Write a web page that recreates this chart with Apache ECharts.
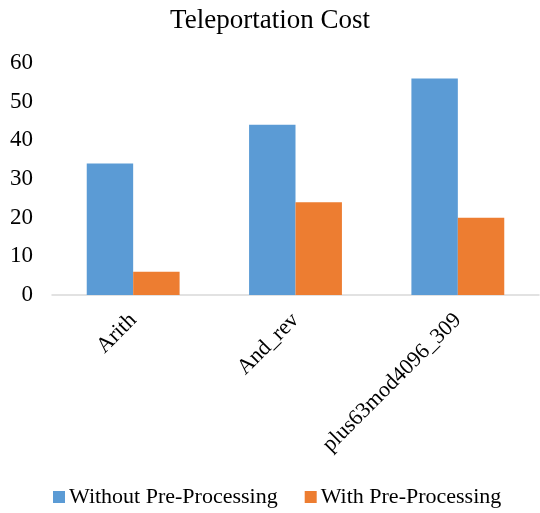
<!DOCTYPE html>
<html>
<head>
<meta charset="utf-8">
<script src="https://cdn.jsdelivr.net/npm/echarts@6/dist/echarts.min.js"></script>
<style>
  html, body { margin: 0; padding: 0; background: #fff; }
  #chart { width: 540px; height: 513px; }
</style>
</head>
<body>
<div id="chart"></div>
<script>
// Benchmark circuits and their teleportation costs
const categories = ['Arith', 'And_rev', 'plus63mod4096_309'];
const withoutPre = [34, 44, 56];
const withPre = [6, 24, 20];
const yTicks = [0, 10, 20, 30, 40, 50, 60];

const serif = '"Liberation Serif", "Times New Roman", serif';

const chart = echarts.init(document.getElementById('chart'), null, { renderer: 'canvas' });
chart.setOption({
  animation: false,
  backgroundColor: '#ffffff',
  title: {
    text: 'Teleportation Cost',
    left: 'center',
    top: 2,
    textStyle: { fontFamily: serif, fontSize: 27, fontWeight: 'normal', color: '#000' }
  },
  legend: {
    bottom: 0,
    left: 48,
    itemWidth: 12,
    itemHeight: 12,
    itemGap: 27,
    icon: 'rect',
    textStyle: { fontFamily: serif, fontSize: 22, color: '#000', padding: [0, 0, 0, -1] },
    data: ['Without Pre-Processing', 'With Pre-Processing']
  },
  grid: { left: 52, right: 1, top: 63, bottom: 218, containLabel: false },
  xAxis: {
    type: 'category',
    data: categories,
    axisLine: { lineStyle: { color: '#d9d9d9', width: 1.5 } },
    axisTick: { show: false },
    axisLabel: {
      rotate: 45,
      interval: 0,
      margin: 22,
      fontFamily: serif,
      fontSize: 22,
      color: '#000'
    }
  },
  yAxis: {
    type: 'value',
    min: yTicks[0],
    max: yTicks[yTicks.length - 1],
    interval: 10,
    splitLine: { show: false },
    axisLine: { show: false },
    axisTick: { show: false },
    axisLabel: { fontFamily: serif, fontSize: 23, color: '#000', margin: 19 }
  },
  series: [
    {
      name: 'Without Pre-Processing',
      type: 'bar',
      data: withoutPre,
      barWidth: '28.6%',
      barGap: '0%',
      itemStyle: { color: '#5B9BD5' }
    },
    {
      name: 'With Pre-Processing',
      type: 'bar',
      data: withPre,
      barWidth: '28.6%',
      itemStyle: { color: '#ED7D31' }
    }
  ]
});
</script>
</body>
</html>
